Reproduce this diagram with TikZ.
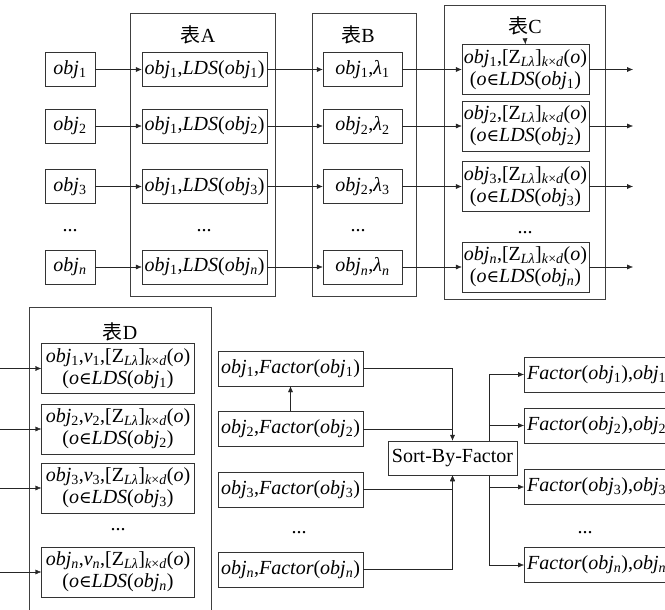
\documentclass[tikz,border=0pt]{standalone}
\usepackage{fontspec}
\setmainfont{Liberation Serif}
\newfontfamily\cjk{Noto Sans CJK SC}
\newfontfamily\symf{DejaVu Serif}
\usetikzlibrary{arrows.meta}

% text pieces that repeat
\newcommand{\ob}[1]{\textit{obj}\textsubscript{#1}}
\newcommand{\zk}{[Z\textsubscript{\textit{Lλ}}]\textsubscript{\textit{k}×\textit{d}}(\textit{o})}
\newcommand{\inlds}[1]{(\textit{o}{\symf\fontsize{17}{20}\selectfont ∈}\textit{LDS}(\ob{#1})}
\newcommand{\fac}[1]{\textit{Factor}(\ob{#1})}

\tikzset{
  box/.style={draw=black!80, inner sep=1pt, minimum height=34pt},
  tallbox/.style={draw=black!80, inner sep=1pt, align=center, minimum height=50pt},
  frame/.style={draw=black!75},
  arr/.style={draw=black!85, -{Latex[length=6pt,width=5pt]}},
  line/.style={draw=black!85},
  dots/.style={inner sep=0pt}
}

\begin{document}
\begin{tikzpicture}[x=1pt, y=-1pt, font=\fontsize{20}{22}\selectfont]
\useasboundingbox (0,0) rectangle (665,610);
\clip (0,0) rectangle (665,610);

    % tables A, B, C
    \draw[frame] (130,13) rectangle (275,296);
    \draw[frame] (312,13) rectangle (416,296);
    \draw[frame] (444,5) rectangle (605,299);
    \node (lblA) at (198,35) {{\cjk 表}A};
    \node (lblB) at (358,35) {{\cjk 表}B};
    \node (lblC) at (525,26) {{\cjk 表}C};

    \foreach \y/\k/\s/\b in {69.5/1/1/1, 126/2/2/2, 186.5/3/3/2, 267/4/{\textit{n}}/{\textit{n}}} {
      \node[box, minimum width=50pt] (in\k) at (70,\y) {\ob{\s}};
      \node[box, minimum width=125pt] (a\k) at (204.5,\y) {\ob{1},\textit{LDS}(\ob{\s})};
      \node[box, minimum width=79pt] (b\k) at (362.5,\y) {\ob{\b},\textit{λ}\textsubscript{\s}};
      \node[tallbox, minimum width=127pt] (c\k) at (525.5,\y) {\ob{\s},\zk\\\inlds{\s}};
      \coordinate (out\k) at (633,\y);
      \draw[arr] (in\k) -- (a\k);
      \draw[arr] (a\k) -- (b\k);
      \draw[arr] (b\k) -- (c\k);
      \draw[arr] (c\k) -- (out\k);
    }
    \draw[arr] (lblC.south) -- (c1.north);

    \foreach \x/\y/\name in {70/231/d0, 204/231/d1, 358/231/d2, 525/233/d3} {
      \node[dots] (\name) at (\x,\y) {...};
    }

    % table D
    \draw[frame] (29,615) -- (29,307) -- (211,307) -- (211,615);
    \node (lblD) at (120,332) {{\cjk 表}D};
    \foreach \y/\k/\s in {368.5/1/1, 429/2/2, 488/3/3, 572/4/{\textit{n}}} {
      \node[tallbox, minimum width=153pt] (dd\k) at (118,\y) {\ob{\s},\textit{v}\textsubscript{\s},\zk\\\inlds{\s}};
      \coordinate (din\k) at (0,\y);
      \draw[arr] (din\k) -- (dd\k);
    }

    % sorted output
    \foreach \y/\k/\s in {374.5/1/1, 425.5/2/2, 487/3/3, 565/4/{\textit{n}}} {
      \node[box, anchor=west, minimum width=160pt, minimum height=35pt, align=left, inner sep=3pt] (f\k) at (524,\y) {\fac{\s},\ob{\s}\hspace{20pt}};
    }
    \coordinate (spine) at (489,458);
    \draw[line] (spine |- f1) -- (spine |- f4);
    \foreach \k in {1,...,4} {
      \draw[arr] (spine |- f\k) -- (f\k);
    }

    \node[box, fill=white, minimum width=129pt] (sort) at (452.5,458) {Sort-By-Factor};

    % factors
    \foreach \y/\k/\s in {368.5/1/1, 429/2/2, 489.5/3/3, 569.5/4/{\textit{n}}} {
      \node[box, minimum width=145pt, minimum height=35pt] (m\k) at (290.5,\y) {\ob{\s},\fac{\s}};
    }
    \draw[arr] (m2) -- (m1);
    \draw[arr] (m1) -| (sort.north);
    \draw[line] (m2) -- (m2 -| sort.north);
    \draw[arr] (m3) -| (sort.south);
    \draw[arr] (m4) -| (sort.south);

    \foreach \x/\y/\name in {118/530/e0, 299/533/e1, 585/533/e2} {
      \node[dots] (\name) at (\x,\y) {...};
    }
\end{tikzpicture}
\end{document}
